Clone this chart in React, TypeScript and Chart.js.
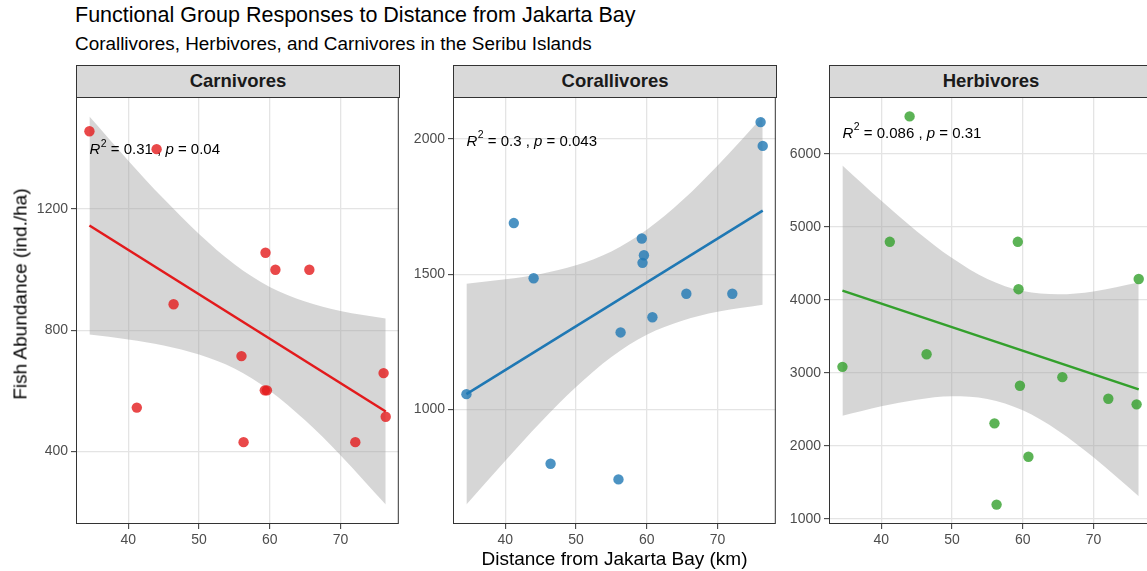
import React, { useEffect, useRef } from "react";
import { Chart, registerables } from "chart.js";

Chart.register(...registerables);

const FONT = '"Liberation Sans", Arial, Helvetica, sans-serif';

// ---- data ----
const distanceKm = [34.5, 41.2, 44.0, 46.4, 56.0, 56.3, 59.3, 59.4, 59.6, 60.8, 65.6, 72.1, 76.1, 76.4];
const carnivores = [1457, 545, 1398, 886, 715, 431, 602, 1056, 602, 1000, 1000, 431, 659, 515];
const corallivores = [1057, 1689, 1485, 800, 742, 1285, 1632, 1542, 1570, 1341, 1428, 1428, 2062, 1974];
const herbivores = [3082, 4795, 6513, 3255, 2308, 1195, 4795, 4146, 2823, 1850, 2941, 2645, 2568, 4286];

const fitX = [34.5, 76.4];
const carnivoresFit = [1146, 532];
const corallivoresFit = [1057, 1735];
const herbivoresFit = [4126, 2773];

const bandX = [34.5, 40, 45, 50, 55, 60, 65, 70, 76.4];
const carnivoresLower = [786, 770, 750, 720, 674, 601, 503, 388, 225];
const carnivoresUpper = [1506, 1360, 1234, 1118, 1018, 943, 895, 864, 839];
const corallivoresLower = [649, 811, 953, 1083, 1194, 1276, 1328, 1361, 1387];
const corallivoresUpper = [1465, 1481, 1501, 1533, 1584, 1664, 1772, 1901, 2083];
const herbivoresLower = [2411, 2542, 2633, 2679, 2642, 2486, 2208, 1844, 1310];
const herbivoresUpper = [5841, 5356, 4941, 4573, 4286, 4120, 4076, 4116, 4236];

const xTicks = [40, 50, 60, 70];
const carnivoresYTicks = [400, 800, 1200];
const corallivoresYTicks = [1000, 1500, 2000];
const herbivoresYTicks = [1000, 2000, 3000, 4000, 5000, 6000];

const panelNames = ["Carnivores", "Corallivores", "Herbivores"];
const r2Labels = ["0.31", "0.3", "0.086"];
const pLabels = ["0.04", "0.043", "0.31"];
const statY = [1395, 1990, 6280];

const title = "Functional Group Responses to Distance from Jakarta Bay";
const subtitle = "Corallivores, Herbivores, and Carnivores in the Seribu Islands";
const xTitle = "Distance from Jakarta Bay (km)";
const yTitle = "Fish Abundance (ind./ha)";

const panels = [
  { values: carnivores, fit: carnivoresFit, lower: carnivoresLower, upper: carnivoresUpper, yTicks: carnivoresYTicks, rgb: [227, 26, 28] },
  { values: corallivores, fit: corallivoresFit, lower: corallivoresLower, upper: corallivoresUpper, yTicks: corallivoresYTicks, rgb: [31, 120, 180] },
  { values: herbivores, fit: herbivoresFit, lower: herbivoresLower, upper: herbivoresUpper, yTicks: herbivoresYTicks, rgb: [51, 160, 44] },
];

// ---- layout ----
const PLOT_TOP = 97;
const PLOT_H = 427;
const PLOT_W = 324;
const Y_W = 60;
const PAD_TOP = 14;
const PAD_RIGHT = 4;
const X_H = 30;
const STRIP_TOP = 65;
const plotLefts = [76, 453, 829];
const X_MIN = 32.6;
const X_MAX = 78.25;

function expandRange(values: number[]) {
  const lo = Math.min(...values);
  const hi = Math.max(...values);
  const e = (hi - lo) * 0.05;
  return [lo - e, hi + e];
}

function drawStat(ctx: CanvasRenderingContext2D, x: number, y: number, r2: string, p: string) {
  const size = 15;
  const base = `${size}px ${FONT}`;
  const ital = `italic ${size}px ${FONT}`;
  const sup = `${size * 0.7}px ${FONT}`;
  ctx.fillStyle = "#000000";
  ctx.textBaseline = "middle";
  ctx.textAlign = "left";
  let cx = x;
  ctx.font = ital;
  ctx.fillText("R", cx, y);
  cx += ctx.measureText("R").width + 0.5;
  ctx.font = sup;
  ctx.fillText("2", cx, y - size * 0.42);
  cx += ctx.measureText("2").width;
  ctx.font = base;
  const s1 = ` = ${r2} , `;
  ctx.fillText(s1, cx, y);
  cx += ctx.measureText(s1).width;
  ctx.font = ital;
  ctx.fillText("p", cx, y);
  cx += ctx.measureText("p").width;
  ctx.font = base;
  ctx.fillText(` = ${p}`, cx, y);
}

function PanelChart({ idx }: { idx: number }) {
  const ref = useRef<HTMLCanvasElement>(null);
  useEffect(() => {
    const p = panels[idx];
    const [yMin, yMax] = expandRange([...p.values, ...p.lower, ...p.upper]);
    const [r, g, b] = p.rgb;
    const lineColor = `rgb(${r},${g},${b})`;
    const pointColor = `rgba(${r},${g},${b},0.8)`;

    const statPlugin = {
      id: "statLabel",
      afterDatasetDraw(chart: any, args: any) {
        if (args.index !== 2) return;
        const ctx = chart.ctx;
        const x = chart.scales.x.getPixelForValue(Math.min(...distanceKm));
        const y = chart.scales.y.getPixelForValue(statY[idx]);
        ctx.save();
        drawStat(ctx, x, y, r2Labels[idx], pLabels[idx]);
        ctx.restore();
      },
    };
    const borderPlugin = {
      id: "panelBorder",
      afterDraw(chart: any) {
        const { left, top, right, bottom } = chart.chartArea;
        const ctx = chart.ctx;
        ctx.save();
        ctx.strokeStyle = "#333333";
        ctx.lineWidth = 1;
        ctx.strokeRect(left + 0.5, top + 0.5, right - left - 1, bottom - top - 1);
        ctx.restore();
      },
    };

    const chart = new Chart(ref.current as HTMLCanvasElement, {
      type: "scatter",
      data: {
        datasets: [
          {
            data: bandX.map((x, i) => ({ x, y: p.lower[i] })),
            showLine: true,
            borderColor: "transparent",
            borderWidth: 0,
            pointRadius: 0,
            fill: false,
            cubicInterpolationMode: "monotone",
            order: 4,
          },
          {
            data: bandX.map((x, i) => ({ x, y: p.upper[i] })),
            showLine: true,
            borderColor: "transparent",
            borderWidth: 0,
            pointRadius: 0,
            fill: "-1",
            backgroundColor: "rgba(153,153,153,0.4)",
            cubicInterpolationMode: "monotone",
            order: 3,
          },
          {
            data: fitX.map((x, i) => ({ x, y: p.fit[i] })),
            showLine: true,
            borderColor: lineColor,
            borderWidth: 2.5,
            pointRadius: 0,
            fill: false,
            order: 2,
          },
          {
            data: distanceKm.map((x, i) => ({ x, y: p.values[i] })),
            pointRadius: 5.2,
            pointBackgroundColor: pointColor,
            pointBorderWidth: 0,
            pointBorderColor: "transparent",
            order: 1,
          },
        ],
      } as any,
      options: {
        animation: false,
        responsive: false,
        maintainAspectRatio: false,
        devicePixelRatio: 1,
        events: [],
        layout: { padding: { top: PAD_TOP, right: PAD_RIGHT, left: 0, bottom: 0 } },
        plugins: { legend: { display: false }, tooltip: { enabled: false }, title: { display: false } },
        scales: {
          x: {
            type: "linear",
            min: X_MIN,
            max: X_MAX,
            afterBuildTicks: (s: any) => {
              s.ticks = xTicks.map((v) => ({ value: v }));
            },
            afterFit: (s: any) => {
              s.height = X_H;
              s.paddingLeft = 0;
              s.paddingRight = 0;
            },
            grid: { color: "#E4E4E4", lineWidth: 1.3, tickLength: 5, tickColor: "#333333", tickWidth: 1 },
            border: { display: false },
            ticks: {
              color: "#4D4D4D",
              font: { family: FONT, size: 14 },
              padding: 3,
              maxRotation: 0,
              autoSkip: false,
              callback: (v: any) => String(v),
            },
          },
          y: {
            type: "linear",
            min: yMin,
            max: yMax,
            afterBuildTicks: (s: any) => {
              s.ticks = p.yTicks.map((v) => ({ value: v }));
            },
            afterFit: (s: any) => {
              s.width = Y_W;
              s.paddingTop = 0;
              s.paddingBottom = 0;
            },
            grid: { color: "#E4E4E4", lineWidth: 1.3, tickLength: 5, tickColor: "#333333", tickWidth: 1 },
            border: { display: false },
            ticks: {
              color: "#4D4D4D",
              font: { family: FONT, size: 14 },
              padding: 3,
              autoSkip: false,
              callback: (v: any) => String(v),
            },
          },
        },
      } as any,
      plugins: [statPlugin, borderPlugin],
    });
    return () => chart.destroy();
  }, [idx]);

  const w = Y_W + PLOT_W + PAD_RIGHT;
  const h = PAD_TOP + PLOT_H + X_H;
  return (
    <canvas
      ref={ref}
      width={w}
      height={h}
      style={{ position: "absolute", left: plotLefts[idx] - Y_W, top: PLOT_TOP - PAD_TOP, width: w, height: h }}
    />
  );
}

export default function App() {
  return (
    <div
      style={{
        position: "absolute",
        left: 0,
        top: 0,
        width: 1147,
        height: 571,
        overflow: "hidden",
        background: "#ffffff",
        fontFamily: FONT,
        color: "#000",
      }}
    >
      <div style={{ position: "absolute", left: 75, top: 5, fontSize: 21.5, lineHeight: 1, whiteSpace: "nowrap" }}>{title}</div>
      <div style={{ position: "absolute", left: 75, top: 35, fontSize: 18.9, lineHeight: 1, whiteSpace: "nowrap" }}>{subtitle}</div>
      {panelNames.map((name, i) => (
        <div
          key={name}
          style={{
            position: "absolute",
            left: plotLefts[i],
            top: STRIP_TOP,
            width: PLOT_W,
            height: PLOT_TOP - STRIP_TOP + 1,
            boxSizing: "border-box",
            background: "#D9D9D9",
            border: "1px solid #333333",
            display: "flex",
            alignItems: "center",
            justifyContent: "center",
            fontWeight: "bold",
            fontSize: 18.5,
            lineHeight: 1,
            color: "#1A1A1A",
            whiteSpace: "nowrap",
          }}
        >
          {name}
        </div>
      ))}
      {[0, 1, 2].map((i) => (
        <PanelChart key={i} idx={i} />
      ))}
      <div
        style={{
          position: "absolute",
          left: 614.5,
          top: 557.5,
          transform: "translate(-50%, -50%)",
          fontSize: 19,
          lineHeight: 1,
          whiteSpace: "nowrap",
        }}
      >
        {xTitle}
      </div>
      <div
        style={{
          position: "absolute",
          left: 19.5,
          top: 294,
          transform: "translate(-50%, -50%) rotate(-90deg)",
          fontSize: 19,
          lineHeight: 1,
          whiteSpace: "nowrap",
        }}
      >
        {yTitle}
      </div>
    </div>
  );
}
